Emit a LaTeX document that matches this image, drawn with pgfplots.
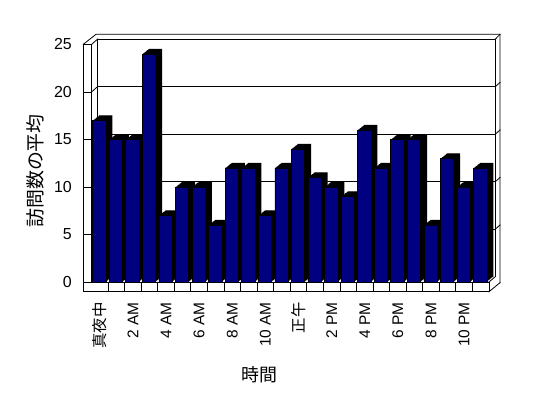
\documentclass[border=0pt]{standalone}
\usepackage{pgfplots}
\pgfplotsset{compat=1.18}
\usepackage{pgfplotstable}
\usepackage{fontspec}
\setmainfont{Liberation Sans}
\newfontfamily\jp{Noto Sans CJK JP}
\definecolor{barnavy}{RGB}{0,0,128}

\pgfplotstableread{
x v
0 17
1 15
2 15
3 24
4 7
5 10
6 10
7 6
8 12
9 12
10 7
11 12
12 14
13 11
14 10
15 9
16 16
17 12
18 15
19 15
20 6
21 13
22 10
23 12
}\visits

\begin{document}
\begin{tikzpicture}
\useasboundingbox (0,0) rectangle (548bp,398bp);
% ---- frame (walls and floor), image coordinates in bp, y downwards
\begin{scope}[shift={(0,398bp)}, x=1bp, y=-1bp, line width=0.8bp, line cap=rect]
  % back wall inner face
  \draw (97.7,39) -- (495.5,39) -- (495.5,276.5);
  \draw (97.7,39) -- (97.7,276.5);
  % gridlines on back wall and left wall
  \foreach \v in {5,10,15,20} {
    \draw (97.7,{276.5-9.5*\v}) -- (495.5,{276.5-9.5*\v});
    \draw (91.5,{282-9.5*\v}) -- (97.7,{276.5-9.5*\v});
    \draw (495.5,{276.5-9.5*\v}) -- (500,{272.5-9.5*\v});
  }
  \draw (91.5,44.5) -- (97.7,39);
  \draw (91.5,282) -- (97.7,276.5);
  % back wall outer strip
  \draw (83.3,44.3) -- (96,34.3) -- (500,34.3) -- (500,282.7);
  \draw (495.5,39) -- (500,34.3);
  % left wall front face
  \draw (83.3,44.3) -- (83.3,291.7);
  \draw (91.5,44.3) -- (91.5,282);
  \draw (83.3,44.3) -- (91.5,44.3);
  \foreach \v in {0,5,10,15,20,25} {
    \draw (83.3,{282-9.5*\v}) -- (91.5,{282-9.5*\v});
  }
  % floor slab
  \draw (83.3,282) -- (489,282) -- (489,291.7) -- (83.3,291.7);
  \foreach \k in {1,...,23} {
    \draw ({91.5+16.5625*\k},282) -- ({91.5+16.5625*\k},291.7);
  }
  \draw (489,291.7) -- (500,282.7);
  \draw (489,282) -- (495.5,276.5);
  % axis titles
  \node[font=\jp\fontsize{19}{22}\selectfont, rotate=90] at (35,171) {訪問数の平均};
  \node[font=\jp\fontsize{18}{21}\selectfont] at (259.5,375) {時間};
\end{scope}

\begin{axis}[
  at={(91.5bp,116bp)}, anchor=south west,
  scale only axis, width=397.5bp, height=237.5bp,
  xmin=-0.5, xmax=23.5, ymin=0, ymax=25,
  clip=false,
  axis line style={draw=none},
  tick style={draw=none},
  major tick length=0pt,
  xtick={0,2,...,22},
  xticklabels={{\jp 真夜中},2 AM,4 AM,6 AM,8 AM,10 AM,{\jp 正午},2 PM,4 PM,6 PM,8 PM,10 PM},
  ytick={0,5,...,25},
  /pgf/number format/assume math mode=true,
  yticklabel style={font=\fontsize{16}{18}\selectfont, inner sep=0pt, anchor=east},
  yticklabel shift=19.5bp,
  xticklabel style={font=\fontsize{15.5}{18}\selectfont, rotate=90, anchor=east, inner sep=0pt},
  xticklabel shift=20bp,
]
% black 3D extrusion (sides and tops)
\addplot[ybar, bar width=13.3bp, bar shift=-0.5bp, fill=black, draw=none, xshift=0.8125bp, yshift=0.65bp] table[x=x,y=v]{\visits};
\addplot[ybar, bar width=13.3bp, bar shift=-0.5bp, fill=black, draw=none, xshift=1.625bp, yshift=1.3bp] table[x=x,y=v]{\visits};
\addplot[ybar, bar width=13.3bp, bar shift=-0.5bp, fill=black, draw=none, xshift=2.4375bp, yshift=1.95bp] table[x=x,y=v]{\visits};
\addplot[ybar, bar width=13.3bp, bar shift=-0.5bp, fill=black, draw=none, xshift=3.25bp, yshift=2.6bp] table[x=x,y=v]{\visits};
\addplot[ybar, bar width=13.3bp, bar shift=-0.5bp, fill=black, draw=none, xshift=4.0625bp, yshift=3.25bp] table[x=x,y=v]{\visits};
\addplot[ybar, bar width=13.3bp, bar shift=-0.5bp, fill=black, draw=none, xshift=4.875bp, yshift=3.9bp] table[x=x,y=v]{\visits};
\addplot[ybar, bar width=13.3bp, bar shift=-0.5bp, fill=black, draw=none, xshift=5.6875bp, yshift=4.55bp] table[x=x,y=v]{\visits};
\addplot[ybar, bar width=13.3bp, bar shift=-0.5bp, fill=black, draw=none, xshift=6.5bp, yshift=5.2bp] table[x=x,y=v]{\visits};
% navy front faces
\addplot[ybar, bar width=13.3bp, bar shift=-0.5bp, fill=barnavy, draw=black, line width=0.6bp] table[x=x,y=v]{\visits};
\end{axis}
\end{tikzpicture}
\end{document}
